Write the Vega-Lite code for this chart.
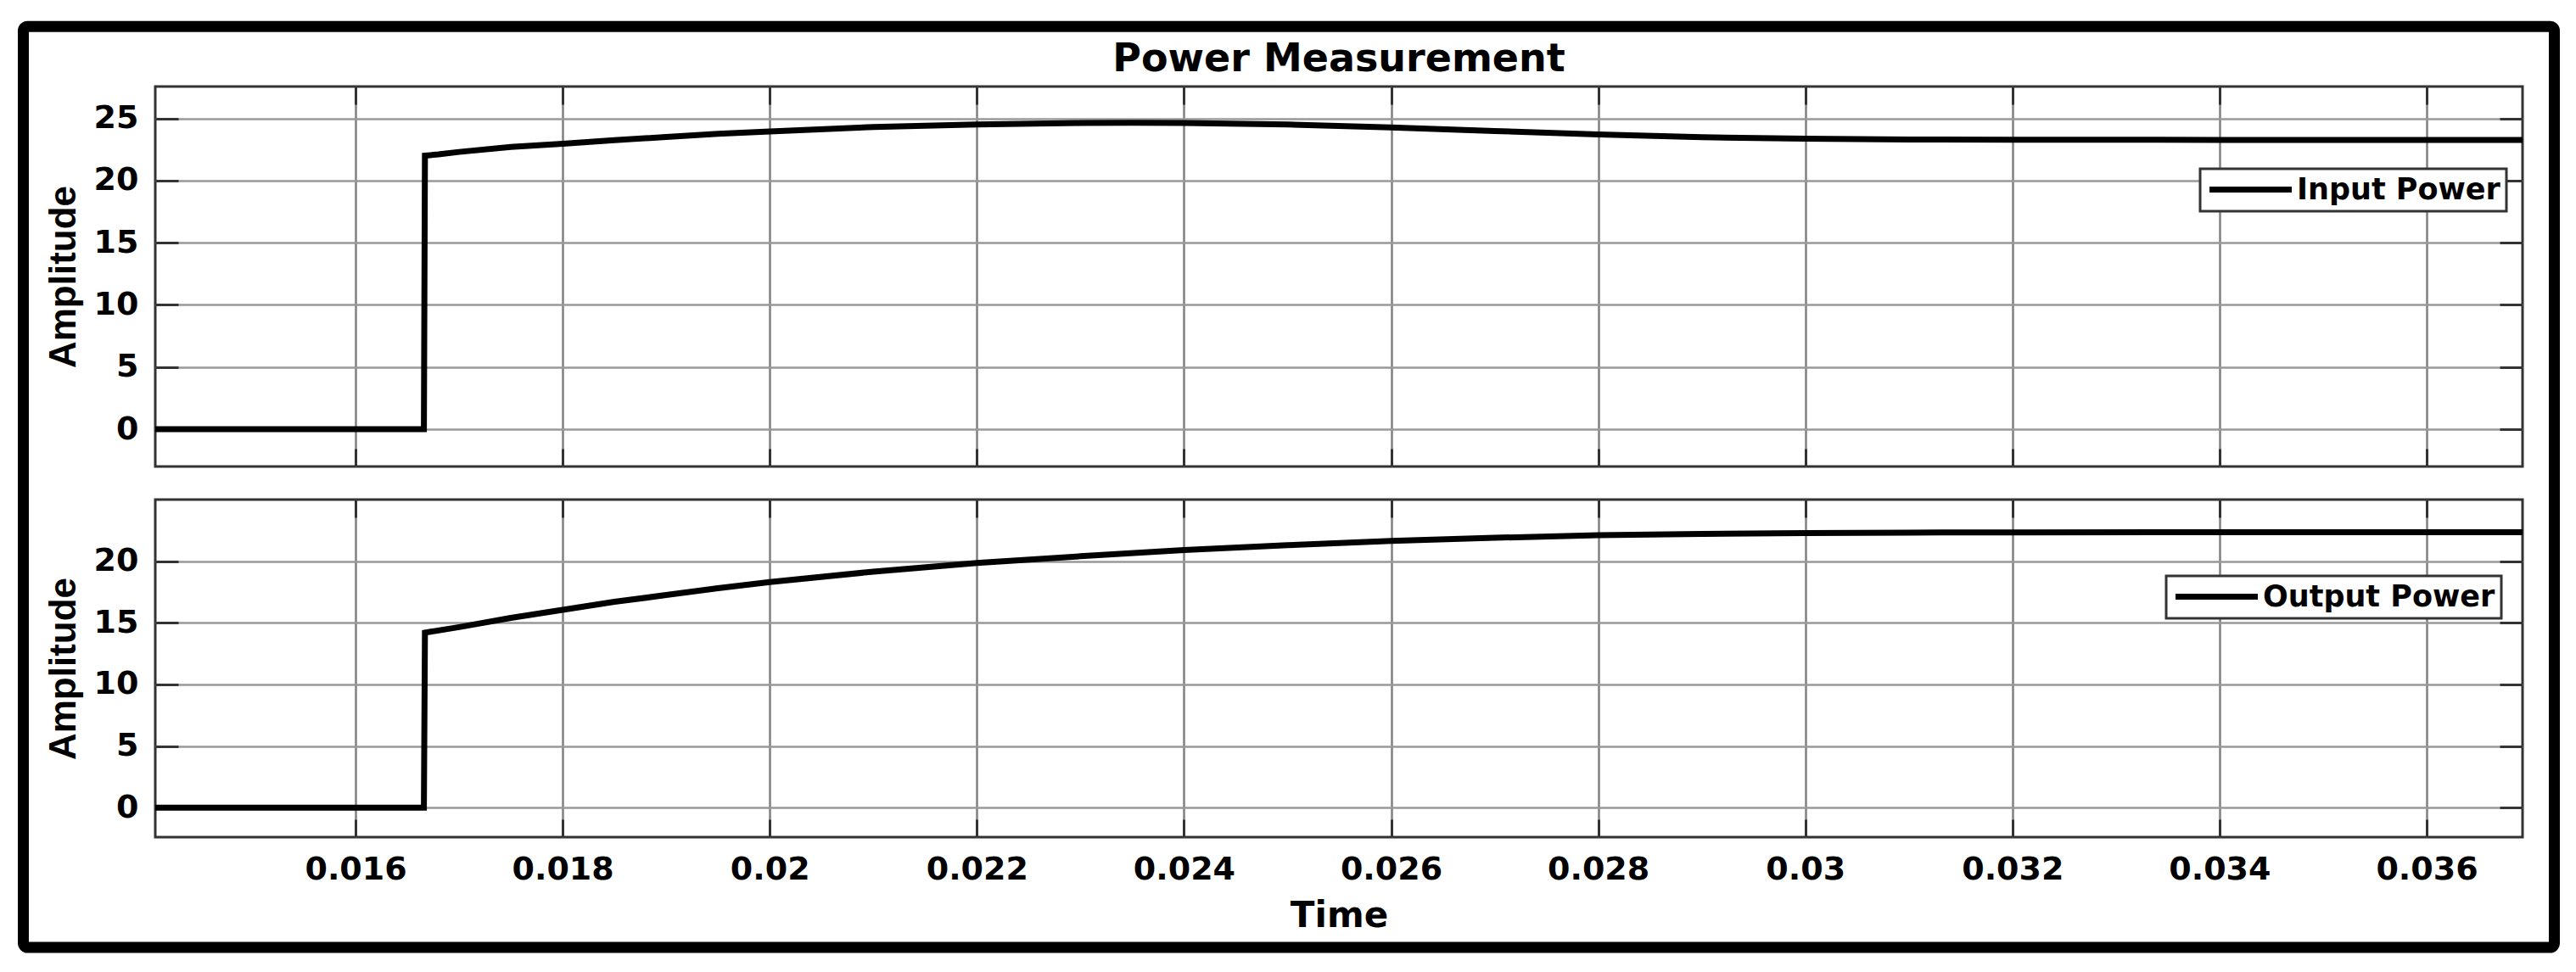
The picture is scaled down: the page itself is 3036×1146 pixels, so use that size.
{
  "$schema": "https://vega.github.io/schema/vega-lite/v6.json",
  "padding": {"left": 19, "top": 23, "right": 0, "bottom": 0},
  "autosize": {"type": "pad"},
  "background": "white",
  "config": {
    "view": {"stroke": "#333333", "strokeWidth": 3},
    "axis": {
      "grid": true, "gridColor": "#999999", "gridWidth": 2.5, "gridOpacity": 1,
      "domain": false, "tickColor": "#333333", "tickWidth": 3,
      "labelFont": "DejaVu Sans", "labelFontWeight": "bold", "labelFontSize": 38, "labelColor": "black",
      "titleFont": "Liberation Sans", "titleFontWeight": "bold", "titleFontSize": 44, "titleColor": "black"
    },
    "legend": {"strokeWidth": 3}
  },
  "datasets": {
    "inp": [
      {"t": 0.014066, "p": 0}, {"t": 0.01666, "p": 0}, {"t": 0.01667, "p": 22.0}, {"t": 0.0168, "p": 22.1},
      {"t": 0.017, "p": 22.3}, {"t": 0.0175, "p": 22.7}, {"t": 0.018, "p": 22.95}, {"t": 0.0185, "p": 23.25},
      {"t": 0.019, "p": 23.5}, {"t": 0.0195, "p": 23.75}, {"t": 0.020, "p": 23.95}, {"t": 0.021, "p": 24.3},
      {"t": 0.022, "p": 24.5}, {"t": 0.023, "p": 24.62}, {"t": 0.0235, "p": 24.65}, {"t": 0.024, "p": 24.63},
      {"t": 0.025, "p": 24.5}, {"t": 0.026, "p": 24.27}, {"t": 0.027, "p": 23.98}, {"t": 0.028, "p": 23.7},
      {"t": 0.029, "p": 23.48}, {"t": 0.030, "p": 23.36}, {"t": 0.031, "p": 23.3}, {"t": 0.032, "p": 23.28},
      {"t": 0.034, "p": 23.27}, {"t": 0.036926, "p": 23.27}
    ],
    "out": [
      {"t": 0.014066, "p": 0}, {"t": 0.01666, "p": 0}, {"t": 0.01667, "p": 14.2}, {"t": 0.017, "p": 14.65},
      {"t": 0.0175, "p": 15.4}, {"t": 0.018, "p": 16.05}, {"t": 0.0185, "p": 16.7}, {"t": 0.019, "p": 17.25},
      {"t": 0.0195, "p": 17.8}, {"t": 0.020, "p": 18.3}, {"t": 0.021, "p": 19.15}, {"t": 0.022, "p": 19.85},
      {"t": 0.023, "p": 20.4}, {"t": 0.024, "p": 20.9}, {"t": 0.025, "p": 21.3}, {"t": 0.026, "p": 21.65},
      {"t": 0.027, "p": 21.9}, {"t": 0.028, "p": 22.1}, {"t": 0.029, "p": 22.22}, {"t": 0.030, "p": 22.28},
      {"t": 0.031, "p": 22.32}, {"t": 0.032, "p": 22.34}, {"t": 0.034, "p": 22.35}, {"t": 0.036926, "p": 22.35}
    ]
  },
  "vconcat": [
    {
      "width": 2790, "height": 448,
      "title": {"text": "Power Measurement", "font": "DejaVu Sans", "fontWeight": "bold", "fontSize": 46, "color": "black", "anchor": "middle", "baseline": "alphabetic", "offset": -29},
      "data": {"name": "inp"},
      "transform": [{"calculate": "'Input Power'", "as": "s"}],
      "layer": [
        {
          "mark": {"type": "line", "strokeWidth": 7, "color": "black"},
          "encoding": {
            "x": {"field": "t", "type": "quantitative", "scale": {"domain": [0.014066, 0.036926], "nice": false, "zero": false},
                  "axis": {"values": [0.016, 0.018, 0.02, 0.022, 0.024, 0.026, 0.028, 0.03, 0.032, 0.034, 0.036], "labels": false, "title": null, "tickSize": -21, "gridColor": "#808080"}},
            "y": {"field": "p", "type": "quantitative", "scale": {"domain": [-3, 27.56], "nice": false, "zero": false},
                  "axis": {"values": [0, 5, 10, 15, 20, 25], "title": "Amplitude", "tickSize": -27, "labelPadding": 47, "titlePadding": 13}},
            "color": {"field": "s", "type": "nominal", "scale": {"range": ["black"]},
                      "legend": {"title": null, "orient": "none", "legendX": 2410, "legendY": 97, "symbolType": "M-4,0H4", "symbolSize": 588, "symbolOffset": 35, "symbolStrokeWidth": 7, "symbolStrokeColor": "black",
                                 "labelFont": "DejaVu Sans", "labelFontWeight": "bold", "labelFontSize": 35, "labelColor": "black", "labelOffset": 37, "labelLimit": 0,
                                 "padding": 7, "strokeColor": "#333333", "fillColor": "white"}}
          }
        },
        {
          "mark": {"type": "line", "opacity": 0},
          "encoding": {
            "x": {"field": "t", "type": "quantitative", "scale": {"domain": [0.014066, 0.036926], "nice": false, "zero": false},
                  "axis": {"orient": "top", "values": [0.016, 0.018, 0.02, 0.022, 0.024, 0.026, 0.028, 0.03, 0.032, 0.034, 0.036], "labels": false, "grid": false, "title": null, "tickSize": -21}},
            "y": {"field": "p", "type": "quantitative", "scale": {"domain": [-3, 27.56], "nice": false, "zero": false},
                  "axis": {"orient": "right", "values": [0, 5, 10, 15, 20, 25], "labels": false, "grid": false, "title": null, "tickSize": -27}}
          }
        }
      ],
      "resolve": {"axis": {"x": "independent", "y": "independent"}}
    },
    {
      "width": 2790, "height": 398,
      "data": {"name": "out"},
      "transform": [{"calculate": "'Output Power'", "as": "s"}],
      "layer": [
        {
          "mark": {"type": "line", "strokeWidth": 7, "color": "black"},
          "encoding": {
            "x": {"field": "t", "type": "quantitative", "scale": {"domain": [0.014066, 0.036926], "nice": false, "zero": false},
                  "axis": {"values": [0.016, 0.018, 0.02, 0.022, 0.024, 0.026, 0.028, 0.03, 0.032, 0.034, 0.036], "format": "~g", "title": "Time", "titleFont": "DejaVu Sans", "titleFontSize": 42, "tickSize": -21, "labelPadding": 40, "titlePadding": 15, "gridColor": "#808080"}},
            "y": {"field": "p", "type": "quantitative", "scale": {"domain": [-2.4, 25], "nice": false, "zero": false},
                  "axis": {"values": [0, 5, 10, 15, 20], "title": "Amplitude", "tickSize": -27, "labelPadding": 47, "titlePadding": 13}},
            "color": {"field": "s", "type": "nominal", "scale": {"range": ["black"]},
                      "legend": {"title": null, "orient": "none", "legendX": 2370, "legendY": 90, "symbolType": "M-4,0H4", "symbolSize": 588, "symbolOffset": 35, "symbolStrokeWidth": 7, "symbolStrokeColor": "black",
                                 "labelFont": "DejaVu Sans", "labelFontWeight": "bold", "labelFontSize": 35, "labelColor": "black", "labelOffset": 37, "labelLimit": 0,
                                 "padding": 7, "strokeColor": "#333333", "fillColor": "white"}}
          }
        },
        {
          "mark": {"type": "line", "opacity": 0},
          "encoding": {
            "x": {"field": "t", "type": "quantitative", "scale": {"domain": [0.014066, 0.036926], "nice": false, "zero": false},
                  "axis": {"orient": "top", "values": [0.016, 0.018, 0.02, 0.022, 0.024, 0.026, 0.028, 0.03, 0.032, 0.034, 0.036], "labels": false, "grid": false, "title": null, "tickSize": -21}},
            "y": {"field": "p", "type": "quantitative", "scale": {"domain": [-2.4, 25], "nice": false, "zero": false},
                  "axis": {"orient": "right", "values": [0, 5, 10, 15, 20], "labels": false, "grid": false, "title": null, "tickSize": -27}}
          }
        },
        {
          "data": {"values": [{}]},
          "mark": {"type": "rect", "clip": false, "filled": false, "stroke": "black", "strokeWidth": 13, "cornerRadius": 5},
          "encoding": {
            "x": {"datum": 0.012792, "type": "quantitative", "scale": {"domain": [0.014066, 0.036926], "nice": false, "zero": false}, "axis": null},
            "x2": {"datum": 0.037233},
            "y": {"datum": 63.4, "type": "quantitative", "scale": {"domain": [-2.4, 25], "nice": false, "zero": false}, "axis": null},
            "y2": {"datum": -11.35}
          }
        }
      ],
      "resolve": {"axis": {"x": "independent", "y": "independent"}}
    }
  ],
  "spacing": 39,
  "bounds": "flush",
  "resolve": {"scale": {"color": "independent"}, "legend": {"color": "independent"}}
}
